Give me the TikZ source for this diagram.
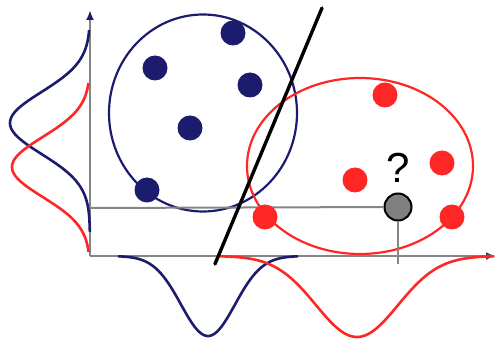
\documentclass[tikz,border=0pt]{standalone}
\usepackage{fontspec}
\setmainfont{Liberation Sans}
\usetikzlibrary{arrows.meta,positioning,shapes.geometric}
\definecolor{clsA}{HTML}{1C1C6E}
\definecolor{clsB}{HTML}{FF2626}
\definecolor{axisline}{HTML}{858585}
\definecolor{queryfill}{HTML}{808080}
\newcommand\gaussbump[3]{exp(-((#1-#2)/#3)*((#1-#2)/#3)/2)}

\begin{document}
\begin{tikzpicture}[x=1pt,y=-1pt,
dot/.style={circle,fill=#1,minimum size=25pt,inner sep=0pt},
cluster/.style={draw=#1,ellipse,line width=2.2pt,inner sep=0pt},
density/.style={draw=#1,line width=2.6pt,smooth,samples=90},
guide/.style={draw=axisline,line width=2pt},
axis/.style={draw=axisline,line width=2.8pt,-{Latex[length=10pt,width=8pt]}},
separator/.style={draw=black,line width=3.4pt,line cap=round}]
\useasboundingbox (0,0) rectangle (496,339);
% axes
\coordinate (origin) at (90,256);
\coordinate (ytip) at (90,10);
\coordinate (xtip) at (496,256);
\draw[axis,-{Latex[length=10pt,width=8pt,color=clsA]}] (origin) -- (ytip);
\draw[axis,-{Latex[length=10pt,width=8pt,color=black!75]}] (origin) -- (xtip);
% marginal densities
\draw[density=clsA] plot[domain=30:232] ({90-80*\gaussbump{\x}{123}{31}},\x);
\draw[density=clsB] plot[domain=83:252] ({90-78*\gaussbump{\x}{167}{30}},\x);
\draw[density=clsA] plot[domain=118:298] (\x,{256+80*\gaussbump{\x}{208}{27}});
\draw[density=clsB] plot[domain=220:494] (\x,{256+81*\gaussbump{\x}{357}{41}});
% clusters
\node[cluster=clsA,minimum width=188pt,minimum height=197pt] (clusterA) at (203,113) {};
\node[cluster=clsB,minimum width=226pt,minimum height=176pt] (clusterB) at (360,166) {};
% query point and its projections
\node[circle,draw=black,fill=queryfill,line width=2pt,minimum size=27pt,inner sep=0pt] (query) at (398,207) {};
\node[font=\fontsize{42}{44}\selectfont] (qmark) at (398,168) {?};
\coordinate (yfoot) at (90,208);
\coordinate (xfoot) at (398,264);
\draw[guide] (yfoot) -- (query);
\draw[guide] (query) -- (xfoot);
% decision boundary
\coordinate (sepA) at (322,8);
\coordinate (sepB) at (215,264);
\draw[separator] (sepB) -- (sepA);
% samples
\node[dot=clsA] (a1) at (233,33) {};
\node[dot=clsA] (a2) at (155,68) {};
\node[dot=clsA] (a3) at (250,85) {};
\node[dot=clsA] (a4) at (190,128) {};
\node[dot=clsA] (a5) at (147,190) {};
\node[dot=clsB] (b1) at (385,95) {};
\node[dot=clsB] (b2) at (355,180) {};
\node[dot=clsB] (b3) at (442,163) {};
\node[dot=clsB] (b4) at (265,217) {};
\node[dot=clsB] (b5) at (452,217) {};
\end{tikzpicture}
\end{document}
